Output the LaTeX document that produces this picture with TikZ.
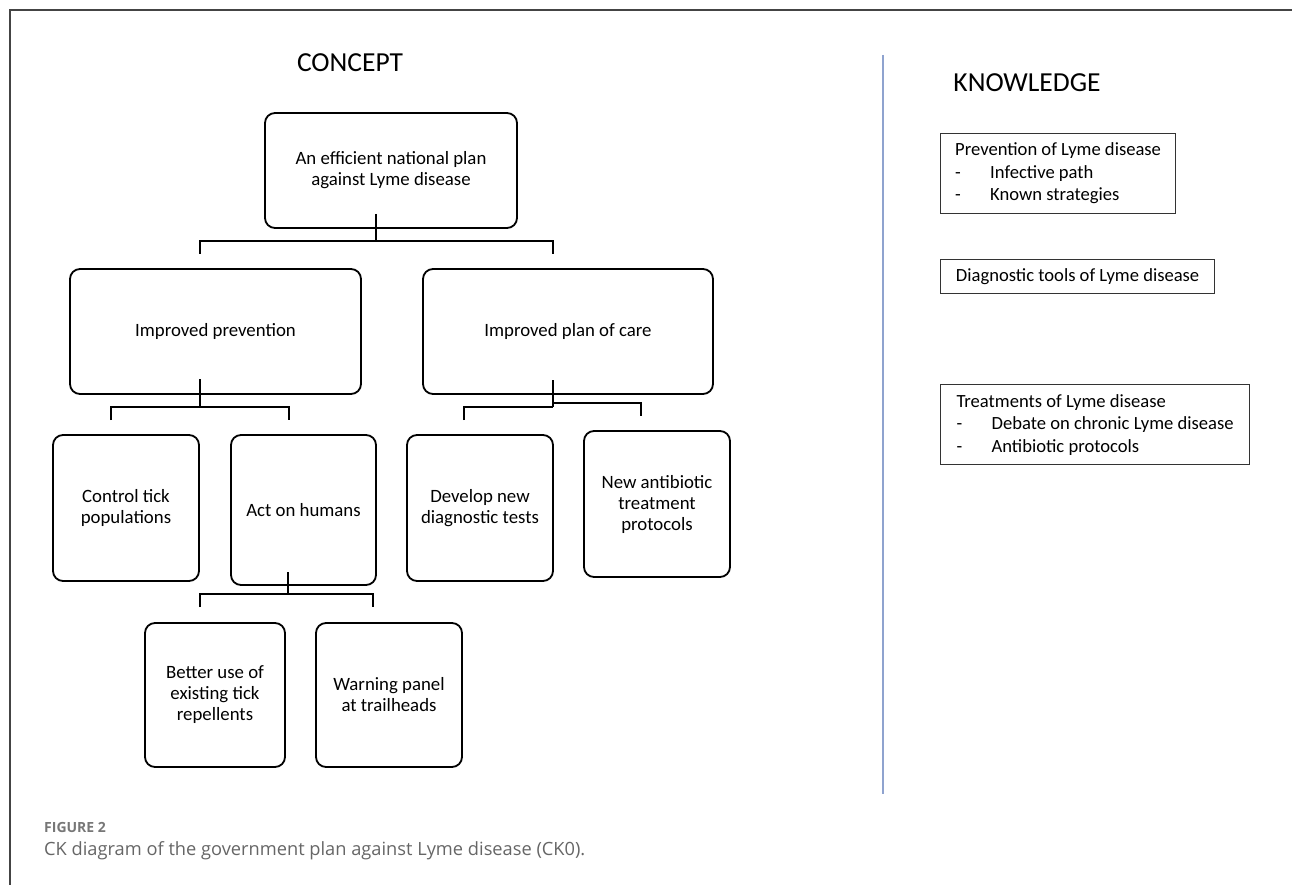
\documentclass[tikz,border=0pt]{standalone}
\usepackage{fontspec}
\setmainfont{Carlito}
\newfontfamily\capfont{Open Sans}
\definecolor{framecol}{HTML}{444444}
\definecolor{sepcol}{HTML}{8FA3CF}
\definecolor{capgray}{HTML}{666666}
\definecolor{figgray}{HTML}{777777}
\begin{document}
\begin{tikzpicture}[x=1pt,y=-1pt,
  cbox/.style={draw=black, line width=1.8pt, rounded corners=10pt, align=center, inner sep=0pt,
    font=\fontsize{18.8}{21}\selectfont},
  kbox/.style={draw=black!80, line width=1.2pt, anchor=north west, align=left, inner sep=0pt,
    font=\fontsize{18.6}{22.5}\selectfont},
  head/.style={font=\fontsize{27.5}{30}\selectfont, inner sep=0pt},
  link/.style={draw=black, line width=1.8pt, line join=miter}]
\fill[white] (0,0) rectangle (1292,885);
\useasboundingbox (0,0) rectangle (1292,885);
% frame
\draw[framecol, line width=1.5pt] (10,885) -- (10,10) -- (1292,10);
% separator
\draw[sepcol, line width=1.5pt] (883,55) -- (883,794);

% headings
\node[head] (concept) at (350,63) {CONCEPT};
\node[head] (knowledge) at (1027,83) {KNOWLEDGE};

% concept boxes
\node[cbox, minimum width=252pt, minimum height=115pt] (top) at (391,170.5) {An efficient national plan\\against Lyme disease};
\node[cbox, minimum width=291pt, minimum height=125pt] (prev) at (215.5,331.5) {Improved prevention};
\node[cbox, minimum width=290pt, minimum height=125pt] (care) at (568,331.5) {Improved plan of care};
\node[cbox, minimum width=146pt, minimum height=146pt] (tick) at (126,508) {Control tick\\populations};
\node[cbox, minimum width=145pt, minimum height=150pt] (hum) at (303.5,510) {Act on humans};
\node[cbox, minimum width=146pt, minimum height=146pt] (diag) at (480,508) {Develop new\\diagnostic tests};
\node[cbox, minimum width=146pt, minimum height=146pt] (anti) at (657,504) {New antibiotic\\treatment\\protocols};
\node[cbox, minimum width=140pt, minimum height=144pt] (rep) at (215,695) {Better use of\\existing tick\\repellents};
\node[cbox, minimum width=146pt, minimum height=144pt] (warn) at (389,695) {Warning panel\\at trailheads};

% bracket 1
\coordinate (b1t) at (376,214);
\coordinate (b1m) at (376,241);
\coordinate (b1l) at (200,241);
\coordinate (b1r) at (553,241);
\coordinate (b1lb) at (200,254);
\coordinate (b1rb) at (553,254);
\draw[link] (b1t) -- (b1m);
\draw[link] (b1lb) -- (b1l) -- (b1r) -- (b1rb);

% bracket 2
\coordinate (b2t) at (200,379);
\coordinate (b2m) at (200,407);
\coordinate (b2l) at (111,407);
\coordinate (b2r) at (289,407);
\coordinate (b2lb) at (111,420);
\coordinate (b2rb) at (289,420);
\draw[link] (b2t) -- (b2m);
\draw[link] (b2lb) -- (b2l) -- (b2r) -- (b2rb);

% bracket 3
\coordinate (b3t) at (553,380);
\coordinate (b3m) at (553,407);
\coordinate (b3n) at (553,403);
\coordinate (b3l) at (464,407);
\coordinate (b3r) at (641,403);
\coordinate (b3lb) at (464,420);
\coordinate (b3rb) at (641,416);
\draw[link] (b3t) -- (b3m);
\draw[link] (b3lb) -- (b3l) -- (b3m);
\draw[link] (b3n) -- (b3r) -- (b3rb);

% bracket 4
\coordinate (b4t) at (288,572);
\coordinate (b4m) at (288,594);
\coordinate (b4l) at (200,594);
\coordinate (b4r) at (373,594);
\coordinate (b4lb) at (200,607);
\coordinate (b4rb) at (373,607);
\draw[link] (b4t) -- (b4m);
\draw[link] (b4lb) -- (b4l) -- (b4r) -- (b4rb);

% knowledge boxes
\node[kbox, minimum width=235pt, minimum height=80pt] (k1) at (940,133)
  {Prevention of Lyme disease\\\makebox[35pt][l]{-}Infective path\\\makebox[35pt][l]{-}Known strategies};
\node[kbox, minimum width=274pt, minimum height=34pt] (k2) at (940,259)
  {Diagnostic tools of Lyme disease};
\node[kbox, minimum width=309pt, minimum height=80pt] (k3) at (940,384)
  {Treatments of Lyme disease\\\makebox[35pt][l]{-}Debate on chronic Lyme disease\\\makebox[35pt][l]{-}Antibiotic protocols};

% caption
\node[anchor=base west, inner sep=0pt, text=figgray, font=\capfont\bfseries\fontsize{14}{16}\selectfont] (fig) at (44,832) {FIGURE 2};
\node[anchor=base west, inner sep=0pt, text=capgray, font=\capfont\fontsize{18.25}{22}\selectfont] (cap) at (44,855) {CK diagram of the government plan against Lyme disease (CK0).};
\end{tikzpicture}
\end{document}
